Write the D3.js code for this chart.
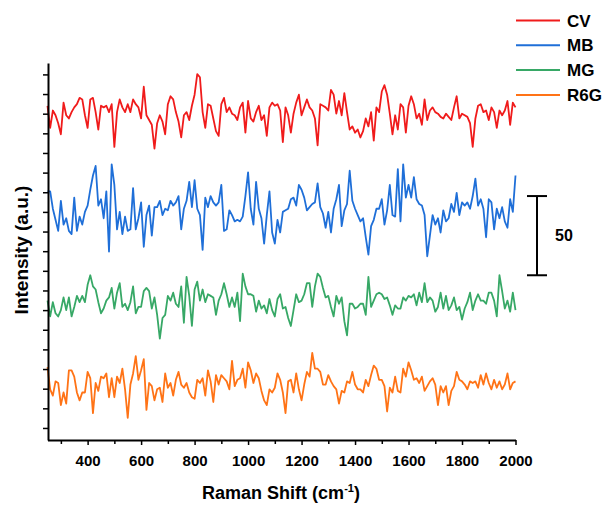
<!DOCTYPE html>
<html>
<head>
<meta charset="utf-8">
<script src="https://cdnjs.cloudflare.com/ajax/libs/d3/7.8.5/d3.min.js"></script>
<style>
  body { margin: 0; background: #fff; }
  svg text { font-family: "Liberation Sans", Arial, sans-serif; font-weight: bold; fill: #000; }
</style>
</head>
<body>
<div id="chart"></div>
<script>
// Raman shift grid (cm-1), one point every 10 cm-1
var shifts = d3.range(250, 2001, 10);

var names = ["CV", "MB", "MG", "R6G"];
var colors = ["#f01b1b", "#1f6fd8", "#37a866", "#ff7316"];
// vertical offsets used to stack the spectra
var offsets = [180, 108, 60, 0];

// intensities (a.u.)
var cv = [31,17,28,25,20,13,33,25,23,27, 30,32,36,35,25,17,35,36,27,16,
  31,30,31,27,32,5,27,35,30,27, 32,27,35,32,30,23,43,25,22,19,
  4,20,25,21,13,32,37,35,27,21, 11,25,27,22,31,38,51,49,27,17,
  32,31,23,15,12,32,36,27,30,26, 25,22,30,33,14,34,23,21,27,31,
  22,25,12,30,33,31,32,28,8,30,
  25,14,26,33,38,25,30,35,30,28, 23,6,32,31,30,28,41,38,26,34,
  25,39,27,16,18,14,16,11,15,23, 18,27,9,30,27,40,44,38,26,13,
  25,16,32,30,14,31,37,32,23,26, 19,35,22,28,30,27,26,24,23,26,
  24,22,30,37,23,26,25,24,20,5, 23,31,32,27,28,22,30,27,17,28,
  25,28,34,19,33,30];

var mb = [49,49,38,31,24,43,28,32,24,22, 45,24,33,28,36,40,50,59,65,40,
  44,32,49,11,66,53,25,36,22,33, 24,25,51,25,32,42,14,34,40,21,
  39,39,43,34,38,37,43,40,42,46, 25,38,43,55,39,56,38,34,12,45,
  39,46,42,40,42,53,24,25,37,34, 30,31,30,33,46,61,38,28,55,38,
  32,16,34,49,23,16,31,23,36,37,
  38,44,45,40,53,50,45,37,39,41, 42,54,39,35,26,36,23,38,44,53,
  27,37,41,62,43,38,34,30,32,20, 9,27,31,38,38,44,28,37,53,34,
  33,63,30,66,45,53,45,58,44,41, 40,34,8,21,34,28,32,23,37,30,
  32,41,36,48,34,42,40,42,38,46, 57,40,44,38,20,44,42,25,38,32,
  39,30,26,44,36,59];

var mg = [28,18,27,20,18,22,30,22,30,18, 24,31,27,31,27,38,44,37,35,27,
  20,23,28,30,36,23,33,39,24,26, 22,27,37,20,24,24,34,36,34,23,
  30,19,4,17,19,31,28,33,26,24, 37,14,43,31,12,35,40,28,35,27,
  32,31,30,19,28,32,39,32,24,30, 24,33,15,45,37,32,32,31,21,28,
  23,25,20,29,22,18,29,32,23,24,
  17,12,22,32,27,28,32,39,39,24, 37,45,43,36,30,31,24,18,31,26,
  30,15,6,26,26,23,24,26,26,19, 43,24,28,32,33,32,29,30,25,19,
  25,23,23,30,28,31,30,32,25,33, 27,39,27,30,28,21,24,33,23,31,
  22,25,30,22,24,16,23,27,33,22, 28,32,28,28,26,33,33,28,18,44,
  34,23,28,21,33,22];

var r6g = [46,32,28,37,36,22,30,23,44,44, 40,30,25,30,30,43,39,17,36,31,
  40,39,42,27,39,27,40,36,45,32, 14,35,42,53,38,44,51,19,36,34,
  25,32,33,24,42,33,36,28,38,43, 35,33,36,30,27,26,38,36,39,28,
  44,37,24,41,35,41,39,37,32,50, 34,38,39,45,33,49,44,36,42,39,
  31,25,22,32,30,33,42,38,30,17,
  37,38,30,42,32,25,35,43,40,55, 45,45,43,35,35,41,37,34,32,23,
  31,30,37,36,43,35,32,32,30,38, 34,41,47,45,38,38,34,18,33,30,
  40,31,30,45,40,49,44,38,39,36, 40,31,34,37,39,35,22,34,30,34,
  22,31,34,43,38,37,35,32,37,36, 37,33,41,35,42,36,32,38,33,37,
  32,35,42,32,36,37];

var series = [cv, mb, mg, r6g];

var xMajor = [400, 600, 800, 1000, 1200, 1400, 1600, 1800, 2000];
var xMinor = [300, 500, 700, 900, 1100, 1300, 1500, 1700, 1900];

// scale bar: 50 a.u.
var barLow = 104, barSize = 50;

var width = 609, height = 506;

var svg = d3.select("#chart")
  .append("svg")
  .attr("width", width)
  .attr("height", height);

var x = d3.scaleLinear().domain([250, 2000]).range([47.5, 515.5]);
var y = d3.scaleLinear().domain([0, 238]).range([440, 63]);

// y ticks (no labels), evenly spaced
var yTicks = d3.range(7.6, 235, 12.4);

// spectra
series.forEach(function(vals, i) {
  var line = d3.line()
    .x(function(d, j) { return x(shifts[j]); })
    .y(function(d) { return y(d + offsets[i]); });
  svg.append("path")
    .datum(vals)
    .attr("d", line)
    .attr("fill", "none")
    .attr("stroke", colors[i])
    .attr("stroke-width", 1.8)
    .attr("stroke-linejoin", "round");
});

// x axis
var xAxis = svg.append("g")
  .attr("transform", "translate(0,440)")
  .call(d3.axisBottom(x).tickValues(xMajor).tickFormat(d3.format("d"))
    .tickSize(5).tickSizeOuter(0).tickPadding(10));
xAxis.select(".domain").attr("stroke-width", 2);
xAxis.selectAll(".tick line").attr("stroke-width", 1.5);
xAxis.selectAll("text")
  .style("font-size", "15px")
  .style("font-weight", "bold")
  .style("font-family", "'Liberation Sans', Arial, sans-serif");

var xMinorAxis = svg.append("g")
  .attr("transform", "translate(0,440)")
  .call(d3.axisBottom(x).tickValues(xMinor).tickSize(4).tickFormat(""));
xMinorAxis.select(".domain").remove();
xMinorAxis.selectAll(".tick line").attr("stroke-width", 1.5);

// y axis
var yAxis = svg.append("g")
  .attr("transform", "translate(48,0)")
  .call(d3.axisLeft(y).tickValues(yTicks).tickSize(5).tickSizeOuter(0).tickFormat(""));
yAxis.select(".domain").attr("stroke-width", 2);
yAxis.selectAll(".tick line").attr("stroke-width", 1.5);

// axis titles
var xt = svg.append("text")
  .attr("x", 281)
  .attr("y", 499)
  .attr("text-anchor", "middle")
  .style("font-size", "18px")
  .text("Raman Shift (cm");
xt.append("tspan").attr("dy", -7).style("font-size", "11px").text("-1");
xt.append("tspan").attr("dy", 7).text(")");

svg.append("text")
  .attr("transform", "translate(28,250) rotate(-90)")
  .attr("text-anchor", "middle")
  .style("font-size", "19px")
  .text("Intensity (a.u.)");

// legend
var legend = svg.append("g");
names.forEach(function(n, i) {
  var ly = 20.5 + i * 24.8;
  legend.append("line")
    .attr("x1", 516).attr("x2", 560)
    .attr("y1", ly).attr("y2", ly)
    .attr("stroke", colors[i])
    .attr("stroke-width", 2);
  legend.append("text")
    .attr("x", 567)
    .attr("y", ly)
    .attr("dy", "0.36em")
    .style("font-size", "17px")
    .text(n);
});

// scale bar
var sb = svg.append("g").attr("stroke", "#000").attr("stroke-width", 2);
sb.append("line").attr("x1", 537).attr("x2", 537).attr("y1", y(barLow)).attr("y2", y(barLow + barSize));
sb.append("line").attr("x1", 527).attr("x2", 547).attr("y1", y(barLow)).attr("y2", y(barLow));
sb.append("line").attr("x1", 527).attr("x2", 547).attr("y1", y(barLow + barSize)).attr("y2", y(barLow + barSize));
svg.append("text")
  .attr("x", 555)
  .attr("y", y(barLow + barSize / 2))
  .attr("dy", "0.36em")
  .style("font-size", "16px")
  .text(barSize);
</script>
</body>
</html>
